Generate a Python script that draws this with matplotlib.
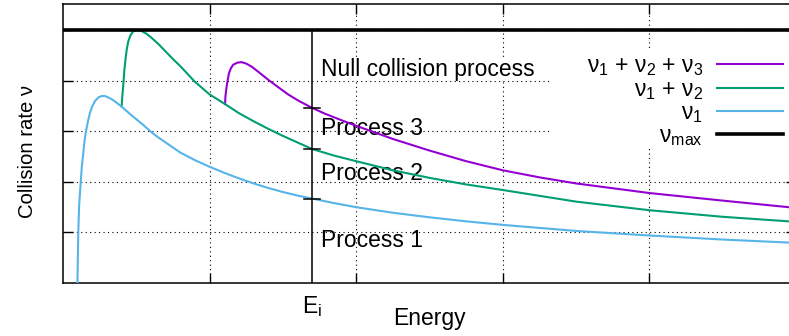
import numpy as np
import matplotlib
matplotlib.use("Agg")
import matplotlib.pyplot as plt
from matplotlib.patches import Rectangle

# ---------- Global style ----------

plt.rcParams["font.family"] = ["Liberation Sans", "DejaVu Sans"]
plt.rcParams["mathtext.default"] = "regular"

FONT_SIZE = 16.5

PURPLE = "#9400D3"
GREEN = "#009E73"
BLUE = "#56B4E9"

# ---------- Data ----------

E_NU1 = [0.098, 0.104, 0.110, 0.121, 0.128, 0.138, 0.147, 0.157, 0.170, 0.184,
         0.200, 0.218, 0.240, 0.264, 0.285, 0.309, 0.330, 0.355, 0.400, 0.450,
         0.500, 0.550, 0.600, 0.650, 0.700, 0.800, 0.900, 1.000, 1.100, 1.200,
         1.300, 1.400, 1.500, 1.600, 1.700, 1.850, 2.000, 2.250, 2.500, 2.750,
         3.000, 3.500, 4.000, 4.500, 4.950]
NU1 = [0.00, 1.01, 1.55, 2.01, 2.30, 2.57, 2.82, 3.01, 3.20, 3.37,
       3.50, 3.60, 3.67, 3.70, 3.70, 3.67, 3.64, 3.59, 3.49, 3.36,
       3.24, 3.12, 2.99, 2.88, 2.78, 2.58, 2.43, 2.30, 2.18, 2.07,
       1.97, 1.88, 1.80, 1.73, 1.67, 1.58, 1.50, 1.39, 1.30, 1.22,
       1.15, 1.03, 0.94, 0.86, 0.80]

E_NU12 = [0.400, 0.403, 0.411, 0.418, 0.427, 0.435, 0.445, 0.460, 0.479, 0.513,
          0.540, 0.570, 0.600, 0.650, 0.700, 0.750, 0.800, 0.900, 1.000, 1.105,
          1.200, 1.300, 1.400, 1.500, 1.600, 1.700, 1.850, 2.000, 2.250, 2.500,
          2.750, 3.000, 3.500, 4.000, 4.500, 4.950]
NU12 = [3.49, 3.65, 3.92, 4.20, 4.45, 4.63, 4.78, 4.90, 4.98, 5.00,
        4.98, 4.93, 4.86, 4.73, 4.58, 4.43, 4.29, 3.98, 3.73, 3.54,
        3.36, 3.20, 3.05, 2.91, 2.78, 2.65, 2.52, 2.41, 2.23, 2.08,
        1.95, 1.84, 1.61, 1.44, 1.31, 1.22]

E_NU123 = [1.105, 1.108, 1.116, 1.124, 1.132, 1.145, 1.161, 1.190, 1.218, 1.250,
           1.287, 1.340, 1.400, 1.470, 1.536, 1.610, 1.696, 1.786, 1.900, 2.000,
           2.250, 2.500, 2.750, 3.000, 3.250, 3.500, 4.000, 4.500, 4.950]
NU123 = [3.54, 3.70, 3.89, 4.03, 4.15, 4.25, 4.32, 4.36, 4.37, 4.34,
         4.28, 4.16, 4.02, 3.87, 3.73, 3.60, 3.47, 3.35, 3.22, 3.11,
         2.85, 2.62, 2.41, 2.23, 2.09, 1.97, 1.78, 1.63, 1.50]

NU_MAX = 5.0
E_I = 1.70

X_TICKS = [1, 2, 3, 4]
Y_TICKS = [1, 2, 3, 4, 5]

PROCESS_LABELS = ["Null collision process", "Process 3", "Process 2", "Process 1"]
PROCESS_LABEL_Y = [4.10, 2.93, 2.03, 0.71]

# ---------- Plot ----------

fig = plt.figure(figsize=(7.89, 3.36), dpi=100)
ax = fig.add_axes([0.0799, 0.1577, 0.929, 0.8304])
ax.set_xlim(0, 5)
ax.set_ylim(0, 5.52)

ax.plot(E_NU123, NU123, color=PURPLE, lw=1.5, zorder=6, label=r"ν$_1$ + ν$_2$ + ν$_3$")
ax.plot(E_NU12, NU12, color=GREEN, lw=1.5, zorder=6, label=r"ν$_1$ + ν$_2$")
ax.plot(E_NU1, NU1, color=BLUE, lw=1.5, zorder=6, label=r"ν$_1$")
ax.plot([0, 5], [NU_MAX, NU_MAX], color="black", lw=2.6, zorder=7, label=r"ν$_{max}$")

# E_i marker line and the rate levels at E_i
ax.plot([E_I, E_I], [0, NU_MAX], color="black", lw=1.1, zorder=7)
for e, nu in ((E_NU1, NU1), (E_NU12, NU12), (E_NU123, NU123)):
    level = np.interp(E_I, e, nu)
    ax.plot([E_I - 0.055, E_I + 0.055], [level, level], color="black", lw=1.1, zorder=7)

for text, y in zip(PROCESS_LABELS, PROCESS_LABEL_Y):
    kw = {}
    if text.startswith("Null"):
        kw["bbox"] = dict(facecolor="white", edgecolor="none", pad=0.5)
    ax.text(E_I + 0.06, y, text, fontsize=FONT_SIZE, ha="left", va="baseline",
            zorder=4, **kw)

ax.text(E_I, -0.59, r"E$_i$", fontsize=FONT_SIZE, ha="center", va="baseline",
        clip_on=False)

# Ticks, grid, spines
ax.set_xticks(X_TICKS)
ax.set_yticks(Y_TICKS)
ax.tick_params(direction="in", length=7.2, width=1.0, top=True, right=True,
               labelbottom=False, labelleft=False)
ax.grid(True, color="black", linestyle=(0, (1, 3)), linewidth=0.8)
for line in ax.get_ygridlines():
    line.set_zorder(5)
for line in ax.get_xgridlines():
    line.set_zorder(1)
for spine in ax.spines.values():
    spine.set_linewidth(1.1)

ax.set_xlabel("Energy", fontsize=FONT_SIZE, va="baseline")
ax.xaxis.set_label_coords(0.5, -0.1505)
ax.set_ylabel("Collision rate ν", fontsize=14.6)
ax.yaxis.set_label_coords(-0.036, 0.47)

# white key area, then the key itself
ax.add_patch(Rectangle((0.664, 0.487), 0.34, 0.348, transform=ax.transAxes,
                       facecolor="white", edgecolor="none", zorder=5.5,
                       clip_on=False))
leg = ax.legend(loc="upper right", bbox_to_anchor=(0.9823, 0.819),
                markerfirst=False, frameon=False, fontsize=FONT_SIZE,
                handlelength=2.88, handletextpad=0.61, labelspacing=-0.03,
                borderpad=0, borderaxespad=0)
for text in leg.get_texts():
    text.set_ha("right")
leg.set_zorder(8)

fig.savefig("out.png", dpi=100)
